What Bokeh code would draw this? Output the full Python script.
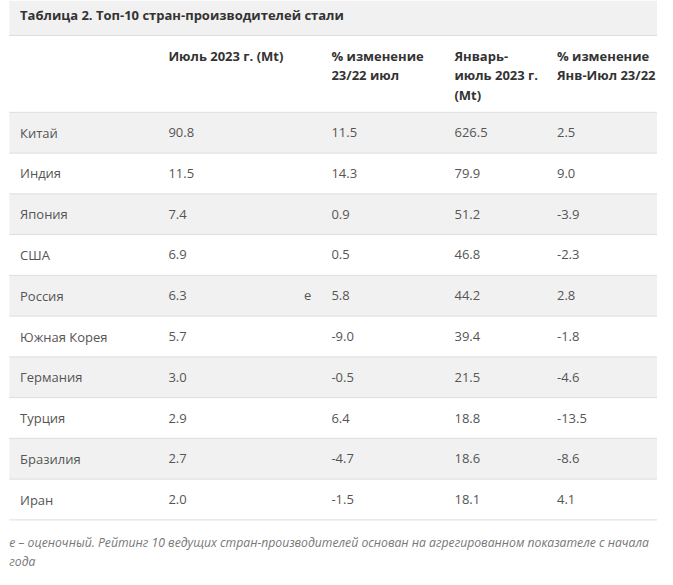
from bokeh.plotting import figure
from bokeh.models import Range1d
from bokeh.core.properties import value
from bokeh.embed import file_html
from bokeh.resources import INLINE

title = "Таблица 2. Топ-10 стран-производителей стали"
countries = ["Китай", "Индия", "Япония", "США", "Россия", "Южная Корея",
             "Германия", "Турция", "Бразилия", "Иран"]
jul_mt = [90.8, 11.5, 7.4, 6.9, 6.3, 5.7, 3.0, 2.9, 2.7, 2.0]
jul_chg = [11.5, 14.3, 0.9, 0.5, 5.8, -9.0, -0.5, 6.4, -4.7, -1.5]
ytd_mt = [626.5, 79.9, 51.2, 46.8, 44.2, 39.4, 21.5, 18.8, 18.6, 18.1]
ytd_chg = [2.5, 9.0, -3.9, -2.3, 2.8, -1.8, -4.6, -13.5, -8.6, 4.1]
flags = ["", "", "", "", "e", "", "", "", "", ""]
headers = [
    ["Июль 2023 г. (Mt)"],
    ["% изменение", "23/22 июл"],
    ["Январь-", "июль 2023 г.", "(Mt)"],
    ["% изменение", "Янв-Июл 23/22"],
]
footnote = ["e – оценочный. Рейтинг 10 ведущих стран-производителей основан на агрегированном показателе с начала",
            "года"]

# layout (pixel-like coordinates of the table)
X0, X1 = 9, 673
col_x = [20, 172, 339, 465, 570]
flag_x = 311
title_top, title_bot = 0, 36
head_bot = 115
row_h = 41.9
FONT = value("Open Sans")
BODY = "#555555"
HEAD = "#333333"
GREY = "#f1f1f1"
LINE = "#dddddd"

W, H = 657, 569
p = figure(width=W, height=H, output_backend="svg", toolbar_location=None,
           x_range=Range1d(0, 673), y_range=Range1d(585, 0),
           min_border=0, outline_line_color=None, background_fill_color="white",
           border_fill_color="white")
p.axis.visible = False
p.grid.visible = False

n = len(countries)
row_top = [head_bot + i * row_h for i in range(n)]
row_bot = [t + row_h for t in row_top]

# bands
p.quad(left=X0, right=X1, top=title_top, bottom=title_bot, fill_color=GREY, line_color=None)
grey_rows = [i for i in range(n) if i % 2 == 0]
p.quad(left=X0, right=X1, top=[row_top[i] for i in grey_rows],
       bottom=[row_bot[i] for i in grey_rows], fill_color=GREY, line_color=None)

# separators
ys = [title_bot, head_bot] + row_bot
p.segment(x0=X0, x1=X1, y0=ys, y1=ys, line_color=LINE, line_width=1)

# title
p.text(x=[20], y=[(title_top + title_bot) / 2 - 3], text=[title], text_font=FONT,
       text_font_size="13px", text_font_style="bold", text_color=HEAD,
       text_baseline="middle")

# headers
hx, hy, ht = [], [], []
for c, lines in enumerate(headers):
    for j, t in enumerate(lines):
        hx.append(col_x[c + 1]); hy.append(57 + 20 * j); ht.append(t)
p.text(x=hx, y=hy, text=ht, text_font=FONT, text_font_size="13px",
       text_font_style="bold", text_color=HEAD, text_baseline="middle")

# body
mid = [(a + b) / 2 for a, b in zip(row_top, row_bot)]
cols = [countries,
        [f"{v:.1f}" for v in jul_mt],
        [f"{v:.1f}" for v in jul_chg],
        [f"{v:.1f}" for v in ytd_mt],
        [f"{v:.1f}" for v in ytd_chg]]
for c, vals in enumerate(cols):
    p.text(x=[col_x[c]] * n, y=mid, text=vals, text_font=FONT, text_font_size="13px",
           text_color=BODY, text_baseline="middle")
fi = [i for i in range(n) if flags[i]]
p.text(x=[flag_x] * len(fi), y=[mid[i] for i in fi], text=[flags[i] for i in fi],
       text_font=FONT, text_font_size="13px", text_color=BODY, text_baseline="middle")

# footnote
p.text(x=[X0] * 2, y=[557, 577], text=footnote, text_font=FONT, text_font_size="12.2px",
       text_font_style="italic", text_color="#777777", text_baseline="middle")

open("out.html", "w").write(file_html(p, INLINE))
